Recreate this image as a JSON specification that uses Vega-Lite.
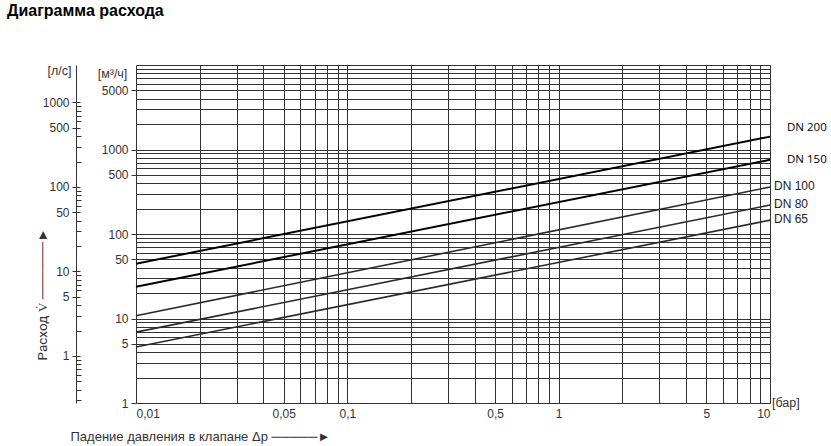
{
  "$schema": "https://vega.github.io/schema/vega-lite/v6.json",
  "width": 634,
  "height": 338,
  "autosize": {"type": "none"},
  "padding": {"left": 136, "top": 65, "right": 61, "bottom": 43},
  "background": "white",
  "title": {
    "text": "Диаграмма расхода",
    "anchor": "start",
    "frame": "group",
    "dx": -129,
    "offset": 27,
    "baseline": "alphabetic",
    "font": "Liberation Sans",
    "fontSize": 16,
    "fontWeight": "bold",
    "color": "#000"
  },
  "config": {
    "view": {"stroke": null},
    "font": "Liberation Sans",
    "axis": {
      "labelFont": "Liberation Sans",
      "titleFont": "Liberation Sans",
      "labelColor": "#333",
      "titleColor": "#333",
      "labelFontSize": 12,
      "titleFontSize": 12,
      "titleFontWeight": "normal"
    }
  },
  "datasets": {
    "lines": [
      {"dn": "DN 200", "dp": 0.01, "q": 44.5},
      {"dn": "DN 200", "dp": 10, "q": 1420},
      {"dn": "DN 150", "dp": 0.01, "q": 23.8},
      {"dn": "DN 150", "dp": 10, "q": 755},
      {"dn": "DN 100", "dp": 0.01, "q": 10.8},
      {"dn": "DN 100", "dp": 10, "q": 360},
      {"dn": "DN 80", "dp": 0.01, "q": 6.9},
      {"dn": "DN 80", "dp": 10, "q": 220},
      {"dn": "DN 65", "dp": 0.01, "q": 4.6},
      {"dn": "DN 65", "dp": 10, "q": 146}
    ]
  },
  "layer": [
    {
      "data": {"name": "lines"},
      "encoding": {
        "x": {
          "field": "dp",
          "type": "quantitative",
          "scale": {"type": "log", "domain": [0.01, 10], "nice": false},
          "axis": {
            "values": [0.01, 0.02, 0.03, 0.04, 0.05, 0.06, 0.07, 0.08, 0.09, 0.1, 0.2, 0.3, 0.4, 0.5, 0.6, 0.7, 0.8, 0.9, 1, 2, 3, 4, 5, 6, 7, 8, 9, 10],
            "grid": true,
            "gridColor": "#333",
            "gridOpacity": 1,
            "gridWidth": 1,
            "ticks": false,
            "domain": true,
            "domainColor": "#333",
            "labelExpr": "indexof([0.01, 0.05, 0.1, 0.5, 1, 5, 10], datum.value) >= 0 ? replace('' + datum.value, '.', ',') : ''",
            "labelFlush": true,
            "labelOverlap": false,
            "labelPadding": 5,
            "title": "Падение давления в клапане Δp  ─────►",
            "titleFontSize": 13,
            "titleX": -66,
            "titleY": 33,
            "titleAlign": "left",
            "titleBaseline": "middle",
            "titleAnchor": "start"
          }
        },
        "y": {
          "field": "q",
          "type": "quantitative",
          "scale": {"type": "log", "domain": [1, 10000], "nice": false},
          "axis": {
            "values": [1, 2, 3, 4, 5, 6, 7, 8, 9, 10, 20, 30, 40, 50, 60, 70, 80, 90, 100, 200, 300, 400, 500, 600, 700, 800, 900, 1000, 2000, 3000, 4000, 5000, 6000, 7000, 8000, 9000, 10000],
            "grid": true,
            "gridColor": "#333",
            "gridOpacity": 1,
            "gridWidth": 1,
            "domain": false,
            "tickSize": 5,
            "tickColor": "#333",
            "tickOpacity": {"condition": {"test": "indexof([1, 5, 10, 50, 100, 500, 1000, 5000], datum.value) >= 0", "value": 1}, "value": 0},
            "labelExpr": "indexof([1, 5, 10, 50, 100, 500, 1000, 5000], datum.value) >= 0 ? '' + datum.value : ''",
            "labelOverlap": false,
            "labelPadding": 3,
            "title": "[м³/ч]",
            "titleFontSize": 12.5,
            "titleAngle": 0,
            "titleX": -24,
            "titleY": 8,
            "titleAlign": "center",
            "titleBaseline": "middle"
          }
        }
      },
      "layer": [
        {
          "transform": [{"filter": "datum.dn == 'DN 200' || datum.dn == 'DN 150'"}],
          "mark": {"type": "line", "color": "#000", "strokeWidth": 2},
          "encoding": {"detail": {"field": "dn", "type": "nominal"}}
        },
        {
          "transform": [{"filter": "datum.dn != 'DN 200' && datum.dn != 'DN 150'"}],
          "mark": {"type": "line", "color": "#2a2a2a", "strokeWidth": 1.6},
          "encoding": {"detail": {"field": "dn", "type": "nominal"}}
        },
        {
          "transform": [{"filter": "datum.dn == 'DN 200' && datum.dp == 10"}],
          "mark": {"type": "text", "align": "left", "baseline": "middle", "dx": 17, "dy": -9, "font": "Open Sans", "fontSize": 11.5, "color": "#000"},
          "encoding": {"text": {"field": "dn"}}
        },
        {
          "transform": [{"filter": "datum.dn == 'DN 150' && datum.dp == 10"}],
          "mark": {"type": "text", "align": "left", "baseline": "middle", "dx": 17, "dy": 0, "font": "Open Sans", "fontSize": 11.5, "color": "#000"},
          "encoding": {"text": {"field": "dn"}}
        },
        {
          "transform": [{"filter": "datum.dn != 'DN 200' && datum.dn != 'DN 150' && datum.dp == 10"}],
          "mark": {"type": "text", "align": "left", "baseline": "middle", "dx": 4, "dy": -1, "font": "Liberation Sans", "fontSize": 12, "color": "#222"},
          "encoding": {"text": {"field": "dn"}}
        },
        {
          "data": {"values": [{"label": "[бар]", "dp": 10, "q": 1}]},
          "mark": {"type": "text", "align": "left", "baseline": "middle", "dx": 2, "font": "Liberation Sans", "fontSize": 12.5, "color": "#333"},
          "encoding": {"text": {"field": "label"}}
        }
      ]
    },
    {
      "data": {"name": "lines"},
      "mark": {"type": "point", "opacity": 0},
      "encoding": {
        "y": {
          "datum": 1,
          "type": "quantitative",
          "scale": {"type": "log", "domain": [0.277778, 2777.78], "nice": false},
          "axis": {
            "orient": "left",
            "offset": 60,
            "values": [0.3, 0.4, 0.5, 0.6, 0.7, 0.8, 0.9, 1, 2, 3, 4, 5, 6, 7, 8, 9, 10, 20, 30, 40, 50, 60, 70, 80, 90, 100, 200, 300, 400, 500, 600, 700, 800, 900, 1000],
            "grid": false,
            "domain": true,
            "domainColor": "#333",
            "tickColor": "#333",
            "tickSize": {"condition": {"test": "indexof([1, 5, 10, 50, 100, 500, 1000], datum.value) >= 0", "value": 4}, "value": -5},
            "labelExpr": "indexof([1, 5, 10, 50, 100, 500, 1000], datum.value) >= 0 ? '' + datum.value : ''",
            "labelOverlap": false,
            "labelPadding": 3,
            "title": "[л/с]",
            "titleFontSize": 12.5,
            "titleAngle": 0,
            "titleX": -17,
            "titleY": 5,
            "titleAlign": "center",
            "titleBaseline": "middle"
          }
        }
      }
    },
    {
      "data": {"name": "lines"},
      "mark": {"type": "point", "opacity": 0},
      "encoding": {
        "y": {
          "datum": 1,
          "type": "quantitative",
          "scale": {"type": "log", "domain": [0.277778, 2777.78], "nice": false},
          "axis": {
            "orient": "left",
            "offset": 60,
            "values": [1, 5, 10, 50, 100, 500, 1000],
            "grid": false,
            "domain": false,
            "labels": false,
            "ticks": true,
            "tickColor": "#333",
            "tickSize": -4,
            "title": "Расход V̇  ──────►",
            "titleFont": "Roboto",
            "titleFontSize": 13.5,
            "titleAngle": 270,
            "titleX": -34,
            "titleY": 229,
            "titleAlign": "center",
            "titleBaseline": "middle"
          }
        }
      }
    }
  ],
  "resolve": {"scale": {"y": "independent"}, "axis": {"y": "independent"}}
}
